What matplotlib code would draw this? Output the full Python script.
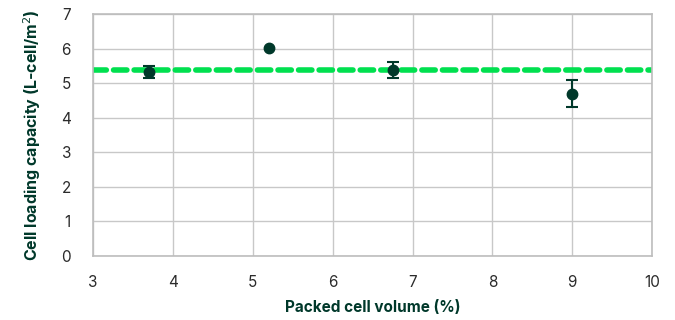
import numpy as np
import matplotlib.pyplot as plt

# data
pcv = [3.7, 5.2, 6.75, 9.0]
capacity = [5.33, 6.03, 5.38, 4.69]
err = [0.18, np.nan, 0.24, 0.39]
mean_capacity = 5.37

dark = '#00382a'
green = '#00e04f'

plt.rcParams['font.family'] = ['Inter', 'DejaVu Sans']

fig = plt.figure(figsize=(6.75, 3.2), dpi=100)
ax = fig.add_axes([0.138, 0.2, 0.828, 0.756])

ax.axhline(mean_capacity, color=green, lw=4, ls=(0, (2.4, 1.3)),
           dash_capstyle='round', zorder=2)
ax.errorbar(pcv, capacity, yerr=err, fmt='o', color=dark, ms=7.5,
            elinewidth=1.5, capsize=4, capthick=1.5, zorder=3)

ax.set_xlim(3, 10)
ax.set_ylim(0, 7)
ax.set_xticks(range(3, 11))
ax.set_yticks(range(0, 8))
ax.grid(True, color='#c8c8c8', lw=1)
ax.set_axisbelow(True)
for s in ax.spines.values():
    s.set_color('#bdbdbd')
    s.set_linewidth(1.2)
ax.tick_params(length=0, labelsize=11, colors='#2b2b2b')
ax.tick_params(axis='x', pad=14)
ax.tick_params(axis='y', pad=16)

ax.set_xlabel('Packed cell volume (%)', fontsize=11, fontweight='bold',
              color=dark, labelpad=7)
ax.set_ylabel('Cell loading capacity (L-cell/m$^2$)', fontsize=11.5,
              fontweight='bold', color=dark, labelpad=13)

fig.savefig('out.png', dpi=100)
